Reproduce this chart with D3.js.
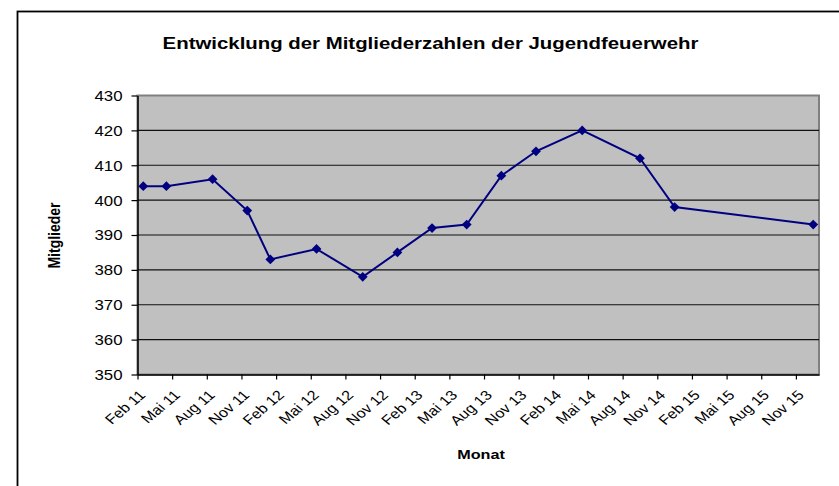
<!DOCTYPE html>
<html><head><meta charset="utf-8">
<script src="https://cdn.jsdelivr.net/npm/d3@7"></script>
<style>
html,body{margin:0;padding:0;background:#fff;overflow:hidden}
text{font-family:"Liberation Sans",Arial,sans-serif;fill:#000}
</style></head>
<body>
<svg id="c" width="839" height="486"></svg>
<script>
// ---- data ----
const months = ["2011-02","2011-04","2011-08","2011-11","2012-01","2012-05","2012-09","2012-12",
                "2013-03","2013-06","2013-09","2013-12","2014-04","2014-09","2014-12","2015-12"];
const members = [404,404,406,397,383,386,378,385,392,393,407,414,420,412,398,393];
const tickLabels = ["Feb 11","Mai 11","Aug 11","Nov 11","Feb 12","Mai 12","Aug 12","Nov 12",
                    "Feb 13","Mai 13","Aug 13","Nov 13","Feb 14","Mai 14","Aug 14","Nov 14",
                    "Feb 15","Mai 15","Aug 15","Nov 15"];
const yTicks = [350,360,370,380,390,400,410,420,430];
const title = "Entwicklung der Mitgliederzahlen der Jugendfeuerwehr";
const xTitle = "Monat", yTitle = "Mitglieder";

// ---- layout ----
const SX = 1.2; // horizontal stretch of the original picture
const L = 137.5, R = 819, T = 95.5, B = 374.5;
const svg = d3.select("#c");
const monthIndex = s => { const [yy,m] = s.split("-").map(Number); return (yy-2011)*12 + (m-2); };

const x = d3.scaleLinear().domain([0, 59]).range([L, R]);
const y = d3.scaleLinear().domain([350, 430]).range([B, T]);

// outer border
svg.append("rect").attr("x",17.5).attr("y",11.5).attr("width",900).attr("height",600)
  .attr("fill","none").attr("stroke","#000").attr("stroke-width",1.8);

// plot area
svg.append("rect").attr("x",L).attr("y",T).attr("width",R-L).attr("height",B-T)
  .attr("fill","#c0c0c0").attr("stroke","#808080").attr("stroke-width",2);

// gridlines
svg.append("g").selectAll("line").data(yTicks.slice(1,-1)).join("line")
  .attr("x1",L).attr("x2",R).attr("y1",d=>y(d)).attr("y2",d=>y(d))
  .attr("stroke","#111").attr("stroke-width",1.1);

// axes
const tickIdx = tickLabels.map((_,i)=>i*3);
const gx = svg.append("g").attr("transform",`translate(0,${B})`)
  .call(d3.axisBottom(x).tickValues(tickIdx).tickSize(5).tickSizeOuter(0)
        .tickFormat((d,i)=>tickLabels[i]));
gx.select(".domain").attr("stroke","#000").attr("stroke-width",1.5);
gx.selectAll(".tick line").attr("stroke","#000").attr("stroke-width",1.2);
gx.selectAll(".tick text")
  .attr("x",null).attr("y",null).attr("dy",null)
  .attr("text-anchor","end").style("font-size","13.5px")
  .attr("transform",`translate(8.5,21.5) scale(${SX},1) rotate(-45)`);

const gy = svg.append("g").attr("transform",`translate(${L},0)`)
  .call(d3.axisLeft(y).tickValues(yTicks).tickSize(6).tickSizeOuter(0));
gy.select(".domain").attr("stroke","#000").attr("stroke-width",1.5);
gy.selectAll(".tick line").attr("stroke","#000").attr("stroke-width",1.2);
gy.selectAll(".tick text").style("font-size","14px")
  .attr("x",-15/SX).attr("dy","0.35em")
  .attr("transform",`scale(${SX},1)`);

// series
const pts = months.map((m,i)=>({m:monthIndex(m)+0.5, v:members[i]}));
svg.append("path").datum(pts)
  .attr("d", d3.line().x(d=>x(d.m)).y(d=>y(d.v)))
  .attr("fill","none").attr("stroke","#000080").attr("stroke-width",2);
svg.append("g").selectAll("path").data(pts).join("path")
  .attr("d", d3.symbol(d3.symbolSquare, 48))
  .attr("transform", d=>`translate(${x(d.m)},${y(d.v)}) rotate(45)`)
  .attr("fill","#000080");

// titles
svg.append("text").attr("text-anchor","middle")
  .attr("transform",`translate(430.5,49.3) scale(${SX},1)`)
  .style("font-size","17px").style("font-weight","bold").text(title);
svg.append("text").attr("text-anchor","middle")
  .attr("transform",`translate(481,459) scale(${SX},1)`)
  .style("font-size","13.5px").style("font-weight","bold").text(xTitle);
svg.append("text").attr("text-anchor","middle")
  .attr("transform",`translate(60,235.5) scale(${SX},1) rotate(-90)`)
  .style("font-size","14px").style("font-weight","bold").text(yTitle);
</script>
</body></html>
